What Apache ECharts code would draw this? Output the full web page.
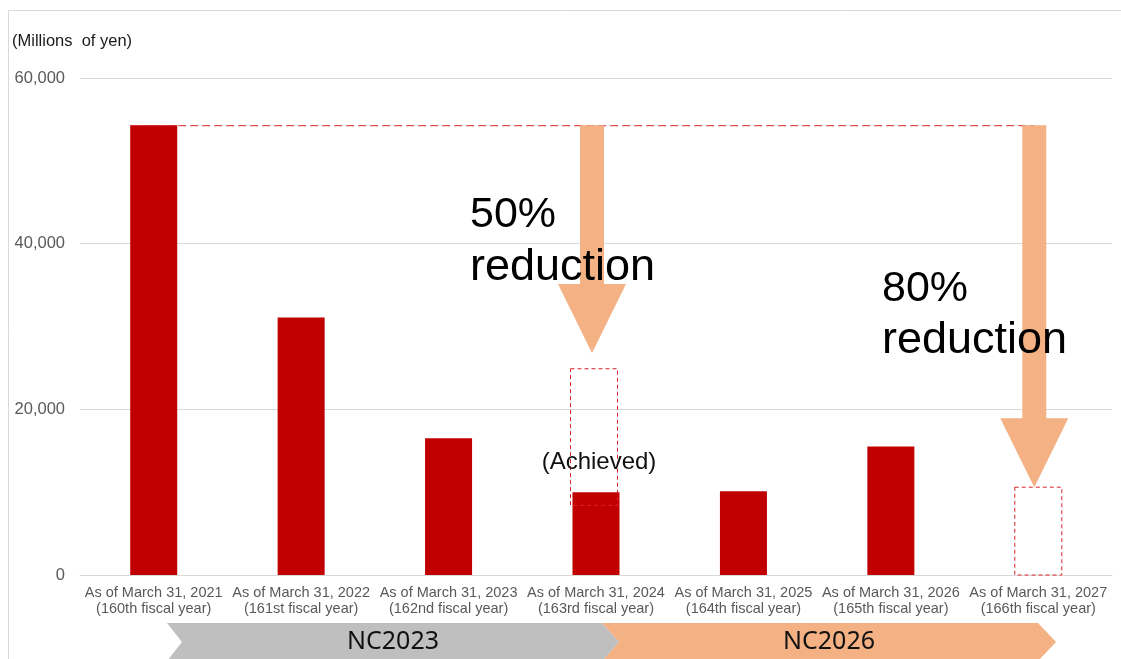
<!DOCTYPE html>
<html>
<head>
<meta charset="utf-8">
<title>Cross-shareholdings reduction</title>
<script src="https://cdn.jsdelivr.net/npm/echarts@6/dist/echarts.min.js"></script>
<style>
  html, body { margin: 0; padding: 0; background: #ffffff; }
  #chart { width: 1121px; height: 659px; }
</style>
</head>
<body>
<div id="chart"></div>
<script>
// Fiscal year-end dates shown on the category axis
const categories = [
  'As of March 31, 2021\n(160th fiscal year)',
  'As of March 31, 2022\n(161st fiscal year)',
  'As of March 31, 2023\n(162nd fiscal year)',
  'As of March 31, 2024\n(163rd fiscal year)',
  'As of March 31, 2025\n(164th fiscal year)',
  'As of March 31, 2026\n(165th fiscal year)',
  'As of March 31, 2027\n(166th fiscal year)'
];

// Balance (millions of yen); no result yet for the last year
const balances = [54300, 31100, 16500, 10000, 10100, 15500, null];

// Dashed target frames: [category index, low value, high value]
const targetFrames = [
  [3, 8400, 24900],
  [6, 0, 10600]
];

// Reduction arrows: [category index, start value, tip value]
const reductionArrows = [
  [3, 54300, 26800],
  [6, 54300, 10600]
];

// Baseline reference line: [from category, to category, value]
const baselineLine = [[0, 6, 54300]];

// Y axis ticks
const yTicks = [0, 20000, 40000, 60000];

// Mid-term plan periods in the banner under the axis
const planNames = ['NC2023', 'NC2026'];

const RED = '#C00000';
const DASH_RED = '#d8232a';
const ORANGE = '#F4B183';
const GREY_BANNER = '#BFBFBF';
const BAR_W = 47;
const ARROW_SHIFT = -4;
const SHAFT_HALF = 12;
const HEAD_HALF = 34;
const HEAD_LEN = 69;
const FONT = '"Liberation Sans", Arial, sans-serif';

const chart = echarts.init(document.getElementById('chart'), null, { renderer: 'canvas' });

const option = {
  backgroundColor: '#ffffff',
  animation: false,
  grid: { left: 80, right: 9, top: 78, bottom: 84, containLabel: false },
  xAxis: {
    type: 'category',
    data: categories,
    axisLine: { lineStyle: { color: '#d9d9d9', width: 1 } },
    axisTick: { show: false },
    axisLabel: {
      interval: 0,
      color: '#595959',
      fontFamily: FONT,
      fontSize: 14.5,
      lineHeight: 16,
      margin: 10
    }
  },
  yAxis: {
    type: 'value',
    min: yTicks[0],
    max: yTicks[yTicks.length - 1],
    interval: yTicks[1] - yTicks[0],
    axisLine: { show: false },
    axisTick: { show: false },
    splitLine: { lineStyle: { color: '#d9d9d9', width: 1 } },
    axisLabel: {
      color: '#595959',
      fontFamily: FONT,
      fontSize: 16.5,
      margin: 15,
      formatter: v => v.toLocaleString('en-US')
    }
  },
  series: [
    {
      type: 'bar',
      data: balances,
      barWidth: BAR_W,
      itemStyle: { color: RED },
      z: 2
    },
    {
      // dashed target frames
      type: 'custom',
      z: 3,
      data: targetFrames,
      renderItem: (params, api) => {
        const lo = api.coord([api.value(0), api.value(1)]);
        const hi = api.coord([api.value(0), api.value(2)]);
        const shift = api.value(1) > 0 ? -2 : 0;
        return {
          type: 'rect',
          shape: { x: lo[0] - BAR_W / 2 + shift, y: hi[1], width: BAR_W, height: lo[1] - hi[1] },
          style: { fill: null, stroke: DASH_RED, lineWidth: 1, lineDash: [4, 3] }
        };
      }
    },
    {
      // dashed line at the starting balance
      type: 'custom',
      z: 3,
      data: baselineLine,
      renderItem: (params, api) => {
        const a = api.coord([api.value(0), api.value(2)]);
        const b = api.coord([api.value(1), api.value(2)]);
        return {
          type: 'line',
          shape: { x1: a[0] - BAR_W / 2, y1: a[1] + 0.5, x2: b[0] + ARROW_SHIFT, y2: b[1] + 0.5 },
          style: { stroke: DASH_RED, lineWidth: 1, lineDash: [8, 4] }
        };
      }
    },
    {
      // reduction arrows
      type: 'custom',
      z: 4,
      data: reductionArrows,
      renderItem: (params, api) => {
        const top = api.coord([api.value(0), api.value(1)]);
        const tip = api.coord([api.value(0), api.value(2)]);
        const x = top[0] + ARROW_SHIFT;
        const yTop = top[1];
        const yTip = tip[1];
        const base = yTip - HEAD_LEN;
        return {
          type: 'polygon',
          shape: {
            points: [
              [x - SHAFT_HALF, yTop], [x + SHAFT_HALF, yTop], [x + SHAFT_HALF, base],
              [x + HEAD_HALF, base], [x, yTip], [x - HEAD_HALF, base], [x - SHAFT_HALF, base]
            ]
          },
          style: { fill: ORANGE }
        };
      }
    }
  ],
  graphic: [
    {
      type: 'rect',
      silent: true,
      z: -10,
      shape: { x: 8.5, y: 10.5, width: 1130, height: 680 },
      style: { fill: null, stroke: '#d9d9d9', lineWidth: 1 }
    },
    {
      type: 'text',
      x: 12, y: 41,
      style: { text: '(Millions  of yen)', fill: '#1a1a1a', font: '16.5px ' + FONT, verticalAlign: 'middle' }
    },
    // plan banners
    {
      type: 'polygon',
      z: 10,
      shape: { points: [[602, 623], [1038, 623], [1056, 642], [1038, 661], [602, 661], [619, 642]] },
      style: { fill: ORANGE }
    },
    {
      type: 'polygon',
      z: 11,
      shape: { points: [[167, 623], [602, 623], [619, 642], [602, 661], [167, 661], [182, 642]] },
      style: { fill: GREY_BANNER }
    },
    {
      type: 'text',
      z: 12,
      x: 393, y: 642,
      style: { text: planNames[0], fill: '#111111', font: '25px "Noto Sans", sans-serif', align: 'center', verticalAlign: 'middle' }
    },
    {
      type: 'text',
      z: 12,
      x: 829, y: 642,
      style: { text: planNames[1], fill: '#111111', font: '25px "Noto Sans", sans-serif', align: 'center', verticalAlign: 'middle' }
    },
    // reduction annotations
    {
      type: 'text', z: 20, x: 470, y: 215,
      style: { text: '50%', fill: '#000000', font: '43px ' + FONT, verticalAlign: 'middle' }
    },
    {
      type: 'text', z: 20, x: 470, y: 268,
      style: { text: 'reduction', fill: '#000000', font: '45px ' + FONT, verticalAlign: 'middle' }
    },
    {
      type: 'text', z: 20, x: 882, y: 289,
      style: { text: '80%', fill: '#000000', font: '43px ' + FONT, verticalAlign: 'middle' }
    },
    {
      type: 'text', z: 20, x: 882, y: 341,
      style: { text: 'reduction', fill: '#000000', font: '45px ' + FONT, verticalAlign: 'middle' }
    },
    {
      type: 'text', z: 20, x: 599, y: 462,
      style: { text: '(Achieved)', fill: '#111111', font: '24px ' + FONT, align: 'center', verticalAlign: 'middle' }
    }
  ]
};

chart.setOption(option);
</script>
</body>
</html>
